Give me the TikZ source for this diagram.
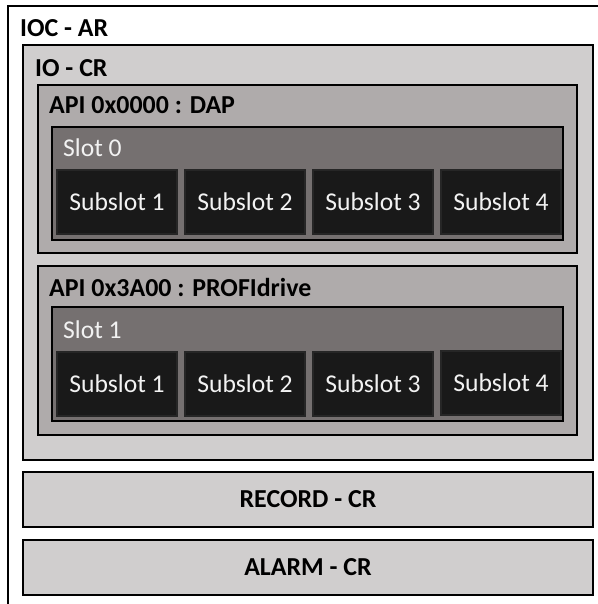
\documentclass[tikz,border=0pt]{standalone}
\usepackage{fontspec}
\setmainfont{Carlito}
\definecolor{cIOCR}{HTML}{D0CECE}
\definecolor{cAPI}{HTML}{AFABAB}
\definecolor{cSlot}{HTML}{757070}
\definecolor{cSub}{HTML}{191919}
\definecolor{cTxt}{HTML}{F2F2F2}
\begin{document}
\begin{tikzpicture}[x=1bp,y=-1bp,
  box/.style={draw=black, line width=1.4bp, anchor=north west, inner sep=0pt, outer sep=0pt},
  iocrbox/.style={box, fill=cIOCR},
  apibox/.style={box, fill=cAPI},
  slotbox/.style={box, fill=cSlot},
  subbox/.style={box, draw=black!85, fill=cSub, minimum width=120bp, minimum height=64bp,
    text=cTxt, font=\fontsize{25.7}{30}\selectfont},
  title/.style={anchor=base west, inner sep=0pt, font=\fontsize{26}{30}\selectfont\bfseries},
  slottitle/.style={anchor=base west, inner sep=0pt, text=cTxt, font=\fontsize{25.7}{30}\selectfont},
  crbox/.style={box, fill=cIOCR, minimum width=570bp, minimum height=55bp,
    font=\fontsize{26}{30}\selectfont\bfseries}]
\clip (0,0) rectangle (598,604);
\fill[white] (0,0) rectangle (598,604);
% outer IOC-AR frame (extends past the picture)
\node[box, fill=white, minimum width=620bp, minimum height=640bp] (iocar) at (8,6) {};
\node[title] (iocarT) at (20,37) {IOC - AR};
% IO-CR
\node[iocrbox, minimum width=570bp, minimum height=415bp] (iocr) at (23,45) {};
\node[title] (iocrT) at (35,77) {IO - CR};
% API DAP
\node[apibox, minimum width=539bp, minimum height=168bp] (api0) at (38,85) {};
\node[title] (api0T) at (49,114) {API 0x0000 : DAP};
\node[slotbox, minimum width=511bp, minimum height=113bp] (slot0) at (52,127) {};
\node[slottitle] (slot0T) at (63,157) {Slot 0};
\node[subbox] (s01) at (57,170) {Subslot 1};
\node[subbox] (s02) at (185,170) {Subslot 2};
\node[subbox] (s03) at (313,170) {Subslot 3};
\node[subbox] (s04) at (441,170) {Subslot 4};
% API PROFIdrive
\node[apibox, minimum width=539bp, minimum height=169bp] (api1) at (38,266) {};
\node[title] (api1T) at (49,296) {API 0x3A00 : PROFIdrive};
\node[slotbox, minimum width=511bp, minimum height=114bp] (slot1) at (52,307) {};
\node[slottitle] (slot1T) at (63,338) {Slot 1};
\node[subbox] (s11) at (57,352) {Subslot 1};
\node[subbox] (s12) at (185,352) {Subslot 2};
\node[subbox] (s13) at (313,352) {Subslot 3};
\node[subbox] (s14) at (441,351) {Subslot 4};
% RECORD / ALARM
\node[crbox] (rec) at (23,472) {RECORD - CR};
\node[crbox] (alarm) at (23,540) {ALARM - CR};
\end{tikzpicture}
\end{document}
